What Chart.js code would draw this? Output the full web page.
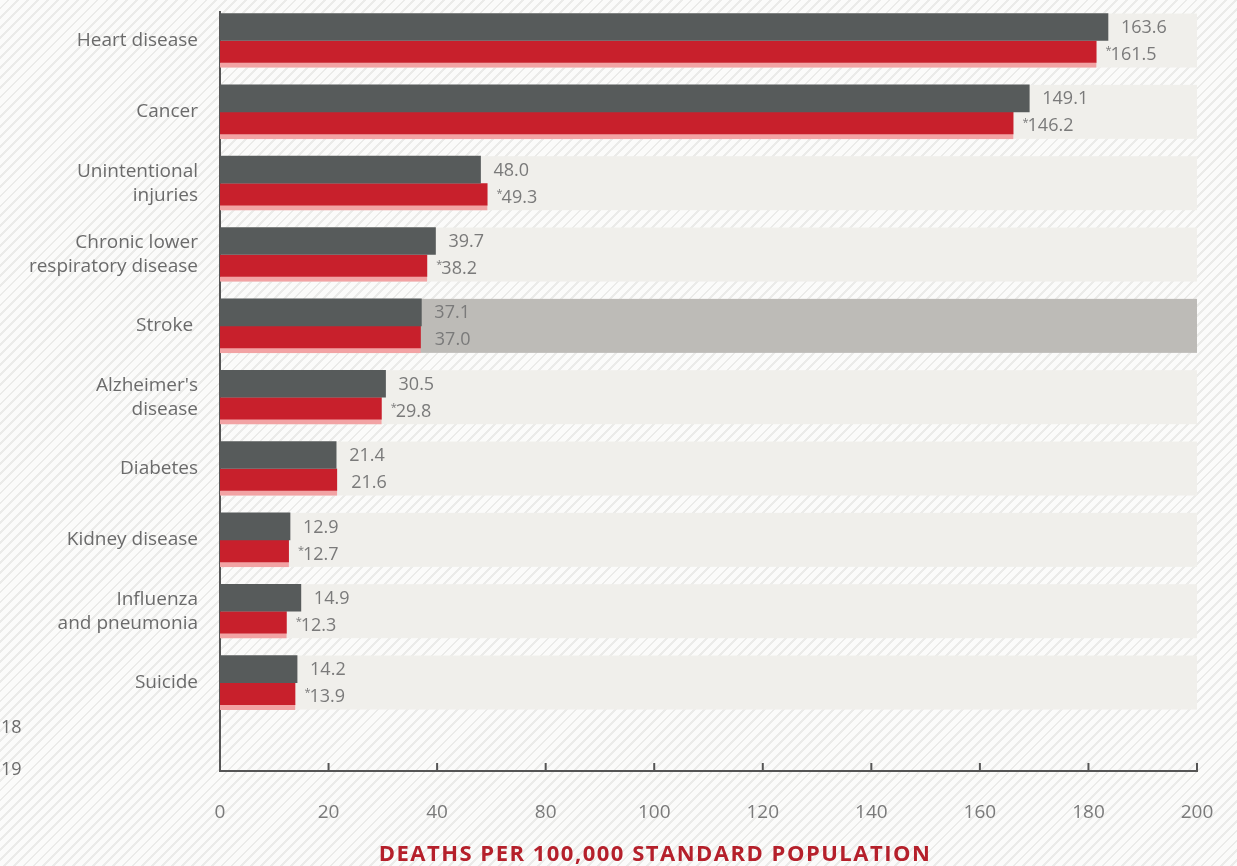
<!DOCTYPE html>
<html>
<head>
<meta charset="utf-8">
<script src="https://cdn.jsdelivr.net/npm/chart.js@4.4.0/dist/chart.umd.min.js"></script>
<style>
html, body { margin: 0; padding: 0; }
body {
    width: 1237px; height: 866px; overflow: hidden;
    background: repeating-linear-gradient(135deg, #fbfbfa 0px, #fbfbfa 5px, #ebebe9 5px, #ebebe9 7px);
}
#wrap { position: relative; width: 1237px; height: 866px; }
</style>
</head>
<body>
<div id="wrap"><canvas id="deaths"></canvas></div>
<script>
// leading causes of death, age-adjusted rates
var causes = [["Heart disease"], ["Cancer"], ["Unintentional", "injuries"], ["Chronic lower", "respiratory disease"],
    ["Stroke "], ["Alzheimer's", "disease"], ["Diabetes"], ["Kidney disease"], ["Influenza", "and pneumonia"], ["Suicide"]];
var rate2018 = [163.6, 149.1, 48.0, 39.7, 37.1, 30.5, 21.4, 12.9, 14.9, 14.2];
var rate2019 = [161.5, 146.2, 49.3, 38.2, 37.0, 29.8, 21.6, 12.7, 12.3, 13.9];
var changed2019 = [true, true, true, true, false, true, false, true, true, true];
var xTickLabels = ["0", "20", "40", "80", "100", "120", "140", "160", "180", "200"];
var legendYears = ["18", "19"];
var axisTitle = "DEATHS PER 100,000 STANDARD POPULATION";
var highlightRow = 4;

var FONT = "'Open Sans', sans-serif";

function points(values) {
    return values.map(function(v, i) { return {x: v, y: i}; });
}

var decorations = {
    id: 'decorations',
    beforeDatasetsDraw: function(chart) {
        var ctx = chart.ctx, area = chart.chartArea, y = chart.scales.y;
        ctx.save();
        causes.forEach(function(c, i) {
            var yc = y.getPixelForValue(i);
            ctx.fillStyle = i === highlightRow ? '#bdbbb7' : '#f0efeb';
            ctx.fillRect(area.left + 2, yc - 27, area.right - area.left - 2, 54);
        });
        ctx.restore();
    },
    afterDatasetsDraw: function(chart) {
        var ctx = chart.ctx, area = chart.chartArea, x = chart.scales.x;
        ctx.save();
        // value labels
        ctx.fillStyle = '#7a7a7a';
        ctx.textBaseline = 'middle';
        chart.getDatasetMeta(0).data.forEach(function(bar, i) {
            ctx.font = '18px ' + FONT;
            ctx.fillText(rate2018[i].toFixed(1), bar.x + 13, bar.y + 1);
        });
        chart.getDatasetMeta(1).data.forEach(function(bar, i) {
            if (changed2019[i]) {
                ctx.font = '11px ' + FONT;
                ctx.fillText('*', bar.x + 9, bar.y - 3);
            }
            ctx.font = '18px ' + FONT;
            ctx.fillText(rate2019[i].toFixed(1), bar.x + 14, bar.y + 1);
        });
        // inner tick marks
        ctx.strokeStyle = '#555';
        ctx.lineWidth = 2;
        x.ticks.forEach(function(t) {
            var px = x.getPixelForValue(t.value);
            if (px <= area.left + 2) return;
            ctx.beginPath();
            ctx.moveTo(px, area.bottom);
            ctx.lineTo(px, area.bottom - 8);
            ctx.stroke();
        });
        ctx.restore();
    },
    afterDraw: function(chart) {
        var ctx = chart.ctx;
        ctx.save();
        ctx.fillStyle = '#6b6b6b';
        ctx.font = '18px ' + FONT;
        ctx.textBaseline = 'middle';
        ctx.fillText(legendYears[0], 1, 728);
        ctx.fillText(legendYears[1], 1, 770);
        ctx.fillStyle = '#b5202b';
        ctx.font = 'bold 22px ' + FONT;
        ctx.letterSpacing = '1.5px';
        ctx.textAlign = 'center';
        ctx.fillText(axisTitle, 655, 855);
        ctx.restore();
    }
};

new Chart(document.getElementById('deaths'), {
    type: 'bar',
    data: {
        datasets: [{
            label: '2018',
            data: points(rate2018),
            backgroundColor: '#575b5b',
            barThickness: 27,
            borderWidth: 0
        }, {
            label: '2019',
            data: points(rate2019),
            backgroundColor: '#c8202c',
            borderColor: '#f2a3a4',
            borderWidth: {top: 0, right: 0, bottom: 5, left: 0},
            borderSkipped: false,
            barThickness: 27
        }]
    },
    options: {
        indexAxis: 'y',
        responsive: true,
        maintainAspectRatio: false,
        animation: false,
        layout: { padding: { top: 12, right: 40, left: 0, bottom: 0 } },
        plugins: { legend: { display: false }, tooltip: { enabled: false } },
        scales: {
            x: {
                type: 'linear',
                min: 0, max: 180,
                afterFit: function(s) { s.height = 95; s.paddingLeft = 0; s.paddingRight = 0; },
                grid: { display: false },
                border: { display: true, color: '#555', width: 2 },
                ticks: {
                    stepSize: 20,
                    padding: 22,
                    color: '#7a7a7a',
                    font: { size: 19, family: FONT },
                    callback: function(v, i) { return xTickLabels[i]; }
                }
            },
            y: {
                type: 'linear',
                reverse: true,
                offset: false,
                min: -0.4, max: 10.24,
                afterFit: function(s) { s.width = 220; s.paddingTop = 0; s.paddingBottom = 0; },
                grid: { display: false, offset: false },
                border: { display: true, color: '#555', width: 2 },
                ticks: {
                    stepSize: 1,
                    includeBounds: false,
                    autoSkip: false,
                    padding: 14,
                    color: '#6b6b6b',
                    font: { size: 19, family: FONT, lineHeight: 1.26 },
                    callback: function(v) { return Number.isInteger(v) && causes[v] ? causes[v] : ''; }
                }
            }
        }
    },
    plugins: [decorations]
});
</script>
</body>
</html>
